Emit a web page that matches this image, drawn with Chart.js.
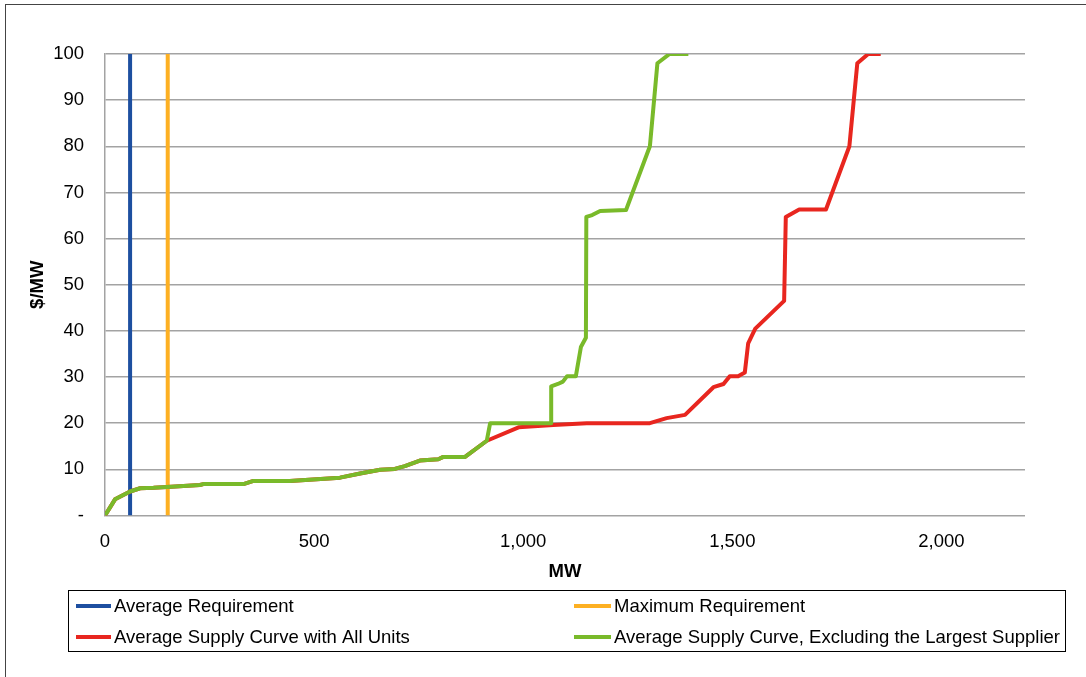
<!DOCTYPE html>
<html>
<head>
<meta charset="utf-8">
<script src="https://cdn.jsdelivr.net/npm/chart.js@4/dist/chart.umd.min.js"></script>
<style>
  html, body { margin: 0; padding: 0; background: #fff; }
  #wrap { width: 1086px; height: 677px; position: relative; }
</style>
</head>
<body>
<div id="wrap"><canvas id="c" width="1086" height="677"></canvas></div>
<script>
// Series names, in legend order
const seriesLabels = [
  'Average Requirement',
  'Maximum Requirement',
  'Average Supply Curve with All Units',
  'Average Supply Curve, Excluding the Largest Supplier'
];

// Requirement levels (MW), drawn as vertical lines over the full price range
const averageRequirementMW = 60;
const maximumRequirementMW = 150;
const priceRange = [0, 100];

// Supply curve with all units
const allUnitsMW = [0, 24, 60, 84, 116, 148, 227, 235, 331, 355, 442, 562, 610, 658, 693, 717, 753, 797, 809, 861, 913,
  989, 1072, 1152, 1303, 1343, 1387, 1455, 1479, 1494, 1514, 1530, 1538, 1555, 1624, 1628, 1644, 1660, 1724, 1780, 1799, 1825, 1855];
const allUnitsPrice = [0, 3.5, 5.2, 5.9, 6.0, 6.2, 6.6, 6.8, 6.8, 7.5, 7.5, 8.2, 9.1, 9.9, 10.1, 10.7, 11.9, 12.2, 12.7, 12.7, 16.2,
  19.1, 19.6, 20.0, 20.0, 21.1, 21.8, 27.8, 28.5, 30.2, 30.2, 31.0, 37.3, 40.5, 46.5, 64.7, 65.5, 66.3, 66.3, 80.0, 98.0, 100, 100];

// Supply curve excluding the largest supplier
const exclLargestMW = [0, 24, 60, 84, 116, 148, 227, 235, 331, 355, 442, 562, 610, 658, 693, 717, 753, 797, 809, 861, 913,
  921, 1067, 1067, 1083, 1095, 1105, 1126, 1138, 1150, 1151, 1165, 1184, 1246, 1303, 1321, 1350, 1395];
const exclLargestPrice = [0, 3.5, 5.2, 5.9, 6.0, 6.2, 6.6, 6.8, 6.8, 7.5, 7.5, 8.2, 9.1, 9.9, 10.1, 10.7, 11.9, 12.2, 12.7, 12.7, 16.2,
  20.0, 20.0, 28.0, 28.5, 29.0, 30.2, 30.2, 36.5, 38.5, 64.7, 65.1, 66.0, 66.2, 80.0, 98.0, 100, 100];

// Axis ticks
const mwTickValues = [0, 500, 1000, 1500, 2000];
const mwAxisMax = 2200;
const priceTickValues = [0, 10, 20, 30, 40, 50, 60, 70, 80, 90, 100];

const seriesColors = ['#1D4FA0', '#FDB022', '#E8261F', '#79BA2A'];

const toPoints = (xs, ys) => xs.map((x, i) => ({ x: x, y: ys[i] }));
const verticalAt = (x) => priceRange.map(y => ({ x: x, y: y }));

const FONT = "'Liberation Sans', Arial, sans-serif";
const FONT_SIZE = 18.5;

// White page with a thin frame around the chart
const framePlugin = {
  id: 'frame',
  beforeDraw(chart) {
    const ctx = chart.ctx;
    ctx.save();
    ctx.fillStyle = '#fff';
    ctx.fillRect(0, 0, chart.width, chart.height);
    ctx.strokeStyle = '#444';
    ctx.lineWidth = 1;
    ctx.strokeRect(5.5, 4.5, chart.width + 20, chart.height + 20);
    ctx.restore();
  }
};

// Boxed two-column legend under the axis title
const boxLegendPlugin = {
  id: 'boxLegend',
  afterDraw(chart) {
    const ctx = chart.ctx;
    ctx.save();
    ctx.strokeStyle = '#000';
    ctx.lineWidth = 1;
    ctx.strokeRect(68.5, 590.5, 997, 61);
    const cols = [{ lx: 76, tx: 114 }, { lx: 574, tx: 614 }];
    const rows = [606, 637];
    ctx.font = FONT_SIZE + 'px ' + FONT;
    ctx.textBaseline = 'middle';
    ctx.textAlign = 'left';
    chart.data.datasets.forEach((ds, i) => {
      const c = cols[i % 2], r = rows[Math.floor(i / 2)];
      ctx.strokeStyle = ds.borderColor;
      ctx.lineWidth = 4;
      ctx.beginPath();
      ctx.moveTo(c.lx, r);
      ctx.lineTo(c.tx - 3, r);
      ctx.stroke();
      ctx.fillStyle = '#000';
      ctx.fillText(ds.label, c.tx, r + 1);
    });
    ctx.restore();
  }
};

const lineStyle = (i) => ({
  label: seriesLabels[i],
  borderColor: seriesColors[i],
  backgroundColor: seriesColors[i],
  borderWidth: 4,
  pointRadius: 0,
  tension: 0,
  fill: false,
  borderJoinStyle: 'round',
  borderCapStyle: 'butt'
});

new Chart(document.getElementById('c'), {
  type: 'line',
  data: {
    datasets: [
      Object.assign(lineStyle(0), { data: verticalAt(averageRequirementMW), order: 3 }),
      Object.assign(lineStyle(1), { data: verticalAt(maximumRequirementMW), order: 2 }),
      Object.assign(lineStyle(2), { data: toPoints(allUnitsMW, allUnitsPrice), order: 1 }),
      Object.assign(lineStyle(3), { data: toPoints(exclLargestMW, exclLargestPrice), order: 0 })
    ]
  },
  options: {
    responsive: false,
    animation: false,
    devicePixelRatio: 1,
    layout: { padding: { top: 54, right: 61, bottom: 94, left: 0 } },
    plugins: {
      legend: { display: false },
      tooltip: { enabled: false }
    },
    scales: {
      x: {
        type: 'linear',
        min: 0,
        max: mwAxisMax,
        grid: { display: false },
        border: { display: false },
        afterBuildTicks: (s) => { s.ticks = mwTickValues.map(v => ({ value: v })); },
        afterFit: (s) => { s.height = 67.5; },
        ticks: {
          color: '#000',
          padding: 7,
          maxRotation: 0,
          font: { family: FONT, size: FONT_SIZE },
          callback: (v) => v.toLocaleString('en-US')
        },
        title: {
          display: true,
          text: 'MW',
          color: '#000',
          font: { family: FONT, size: FONT_SIZE, weight: 'bold' },
          padding: { top: 0, bottom: 0 }
        }
      },
      y: {
        type: 'linear',
        min: priceRange[0],
        max: priceRange[1],
        afterBuildTicks: (s) => { s.ticks = priceTickValues.map(v => ({ value: v })); },
        afterFit: (s) => { s.width = 105; },
        grid: { color: '#a3a3a3', lineWidth: 1.5, drawTicks: false },
        border: { display: true, color: '#a3a3a3', width: 1.5 },
        ticks: {
          color: '#000',
          padding: 21,
          font: { family: FONT, size: FONT_SIZE },
          callback: (v) => (v === 0 ? '-' : String(v))
        },
        title: {
          display: true,
          text: '$/MW',
          color: '#000',
          font: { family: FONT, size: FONT_SIZE, weight: 'bold' },
          padding: { top: 27, bottom: 0 }
        }
      }
    }
  },
  plugins: [framePlugin, boxLegendPlugin]
});
</script>
</body>
</html>
